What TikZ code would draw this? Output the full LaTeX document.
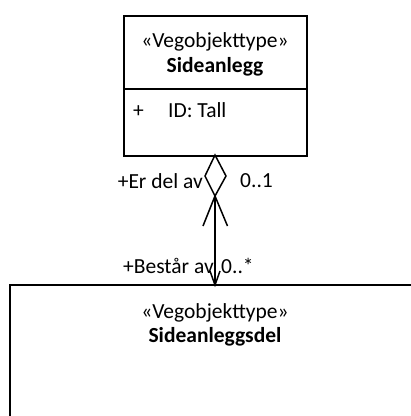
\documentclass[tikz,border=0pt]{standalone}
\usepackage{fontspec}
\setmainfont{Carlito}
\begin{document}
\begin{tikzpicture}[x=1pt,y=-1pt,
  boxline/.style={line width=2pt},
  conn/.style={line width=1.5pt},
  lbl/.style={inner sep=0pt, font=\fontsize{21.5}{25}\selectfont}]
\useasboundingbox (0,0) rectangle (411,416);
% top class
\node[boxline,draw,minimum width=183pt,minimum height=140pt,anchor=north west,inner sep=0pt] (top) at (123,15) {};
\draw[boxline] (123,89) -- (306,89);
\node[lbl] (st1) at (215,42) {«Vegobjekttype»};
\node[lbl,font=\fontsize{21.5}{25}\selectfont\bfseries] (n1) at (215,67) {Sideanlegg};
\node[lbl,anchor=base west] (plus) at (133,117) {+};
\node[lbl,anchor=base west] (attr) at (168,117) {ID: Tall};
% bottom class
\draw[boxline] (10,418) -- (10,285) -- (413,285);
\coordinate (bot) at (215,285);
\node[lbl] (st2) at (215,313) {«Vegobjekttype»};
\node[lbl,font=\fontsize{21.5}{25}\selectfont\bfseries] (n2) at (215,337) {Sideanleggsdel};
% diamond
\coordinate (dt) at (215,155);
\coordinate (dl) at (205,176);
\coordinate (dr) at (226,176);
\coordinate (db) at (215,196);
\draw[conn,line join=miter] (dt) -- (dl) -- (db) -- (dr) -- cycle;
\draw[conn] (db) -- (203,226);
\draw[conn] (db) -- (227.5,226);
\draw[conn] (db) -- (bot);
\draw[conn] (210,271) -- (bot) -- (220,271);
% labels
\node[lbl,anchor=east] (r1) at (203,181) {+Er del av};
\node[lbl,anchor=west] (m1) at (240,181) {0..1};
\node[lbl,anchor=west] (r2) at (123,266) {+Består av};
\node[lbl,anchor=west] (m2) at (221,266) {0..*};
\end{tikzpicture}
\end{document}
